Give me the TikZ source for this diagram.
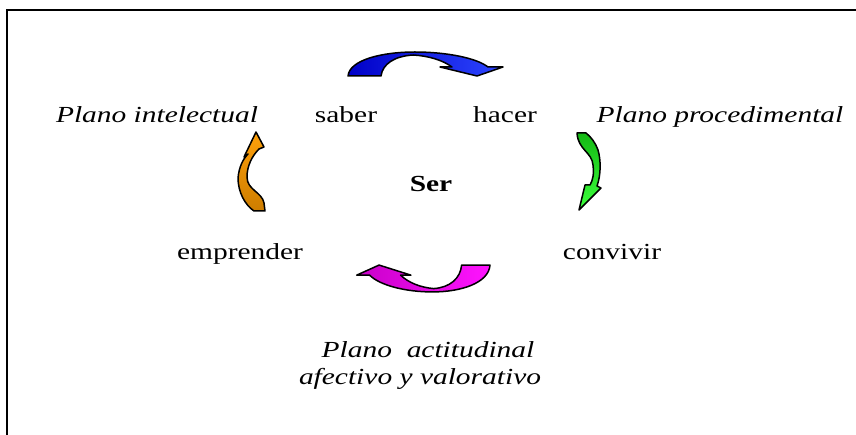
\documentclass[tikz,border=0pt]{standalone}
\usepackage{fontspec}
\setmainfont{Liberation Serif}
\definecolor{bluedark}{RGB}{0,0,200}
\definecolor{bluelight}{RGB}{45,70,255}
\definecolor{greendark}{RGB}{20,185,20}
\definecolor{greenlight}{RGB}{60,255,60}
\definecolor{orangedark}{RGB}{205,125,0}
\definecolor{orangelight}{RGB}{255,160,10}
\definecolor{magdark}{RGB}{200,0,200}
\definecolor{maglight}{RGB}{255,20,255}
\newcommand{\wide}[1]{\scalebox{1.28}[1]{#1}}

\begin{document}
\begin{tikzpicture}[x=1pt,y=-1pt,
 word/.style={inner sep=0pt,anchor=base,font=\fontsize{23}{27}\selectfont},
 plane/.style={inner sep=0pt,anchor=base,font=\fontsize{23}{27}\selectfont\itshape},
 band/.style={draw=black,line width=1.5pt,line join=round}]
 \useasboundingbox (0,0) rectangle (856,435);
 % frame, only top and left edges show
 \draw[line width=1.5pt] (7,435) -- (7,10) -- (856,10);
 % the four words round the centre
 \node[word] (saber) at (346,123) {\wide{saber}};
 \node[word] (hacer) at (505,123) {\wide{hacer}};
 \node[word] (convivir) at (612,260) {\wide{convivir}};
 \node[word] (emprender) at (240,260) {\wide{emprender}};
 \node[word,font=\fontsize{23}{27}\selectfont\bfseries] (ser) at (431,192) {\wide{Ser}};
 % planes
 \node[plane] (intel) at (157,123) {\wide{Plano intelectual}};
 \node[plane] (proc) at (720,123) {\wide{Plano procedimental}};
 \node[plane] (act) at (428,357) {\wide{Plano~ actitudinal}};
 \node[plane] (afect) at (420,384) {\wide{afectivo y valorativo}};
 % top arrow, saber to hacer
 \begin{scope}[shift={(426.5,64)}]
 \path[band,left color=bluedark,right color=bluelight]
 (-78.5,12) .. controls (-77,-4) and (-45,-12) .. (-11.5,-12)
 .. controls (20,-12) and (50,-6) .. (61.5,3)
 -- (76.5,3) -- (50.5,12) -- (13.5,3) -- (25.5,3)
 .. controls (16,-4) and (2,-8) .. (-13,-9)
 .. controls (-32,-8) and (-44,0) .. (-45.5,12) -- cycle;
 \end{scope}
 % bottom arrow, convivir to emprender
 \begin{scope}[shift={(422.5,278.5)},rotate=180,xscale=0.86,yscale=1.12]
 \path[band,left color=magdark,right color=maglight]
 (-78.5,12) .. controls (-77,-4) and (-45,-12) .. (-11.5,-12)
 .. controls (20,-12) and (50,-6) .. (61.5,3)
 -- (76.5,3) -- (50.5,12) -- (13.5,3) -- (25.5,3)
 .. controls (16,-4) and (2,-8) .. (-13,-9)
 .. controls (-32,-8) and (-44,0) .. (-45.5,12) -- cycle;
 \end{scope}
 % right arrow, hacer to convivir
 \path[band,top color=greendark,bottom color=greenlight]
 (577,133) .. controls (578,150) and (592,152) .. (593,165)
 .. controls (594,174) and (593,180) .. (590,185)
 -- (585,185) -- (579,210) -- (601,188) -- (597,186)
 .. controls (601,175) and (601,160) .. (598,150)
 .. controls (595,142) and (591,137) .. (586,133) -- cycle;
 % left arrow, emprender to saber
 \path[band,top color=orangelight,bottom color=orangedark]
 (254,211) .. controls (245,205) and (238,192) .. (238,178)
 .. controls (239,167) and (243,159) .. (248,154)
 -- (244,157) -- (256,132) -- (264,147) -- (259,149)
 .. controls (252,156) and (247,166) .. (247,177)
 .. controls (247,190) and (262,192) .. (264,203) -- (265,211) -- cycle;
\end{tikzpicture}
\end{document}
